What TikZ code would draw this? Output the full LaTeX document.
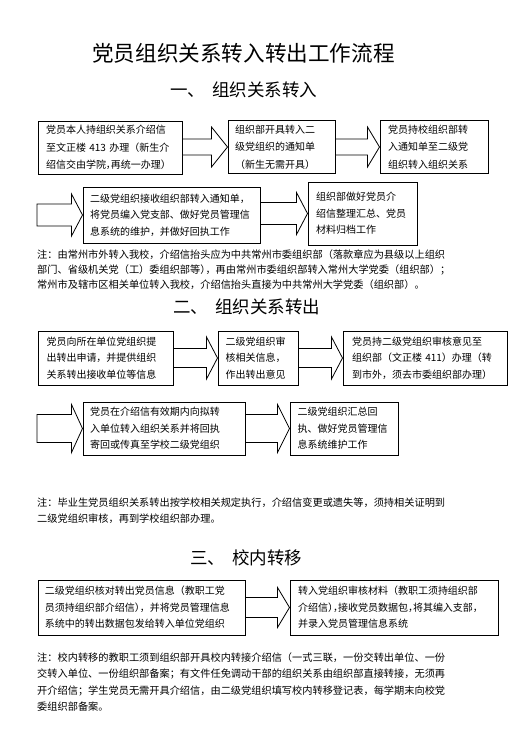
\documentclass[tikz,border=0pt]{standalone}
\usepackage{fontspec}
\setmainfont{Noto Sans CJK SC}
\usetikzlibrary{calc}
\XeTeXinterchartokenstate=1
\def\cjkglue{}
\XeTeXinterchartoks 1 1 = {\cjkglue}
\XeTeXinterchartoks 1 2 = {\cjkglue}
\XeTeXinterchartoks 1 3 = {\cjkglue}
\XeTeXinterchartoks 2 1 = {\cjkglue}
\XeTeXinterchartoks 3 1 = {\cjkglue}
\XeTeXinterchartoks 3 2 = {\cjkglue}
\XeTeXinterchartoks 3 3 = {\cjkglue}
\newcommand\jl[1]{\leavevmode\hbox to \linewidth{\def\cjkglue{\hskip 0pt plus 1fil minus 0.5pt}#1}}
\newcommand\hw[1]{#1\kern-0.5em}
\newcommand\barrow[5]{%
  \draw[blockarrow] let \p1=(#1), \p2=(#2) in
   (\x1,{\y2+#3pt}) -- ({\x2-#5pt},{\y2+#3pt}) -- ({\x2-#5pt},{\y2+#4pt}) -- (\x2,\y2)
   -- ({\x2-#5pt},{\y2-#4pt}) -- ({\x2-#5pt},{\y2-#3pt}) -- (\x1,{\y2-#3pt}) -- cycle;}
\tikzset{
  box/.style={draw=black, line width=1pt, fill=white, inner sep=0pt, align=left,
    font=\fontsize{10}{16.5}\selectfont},
  boxa/.style={box, font=\fontsize{10}{17.5}\selectfont},
  blockarrow/.style={draw=black, line width=0.8pt, fill=white, line join=miter},
  note/.style={inner sep=0pt, anchor=base west, align=left, text width=416pt},
  heading/.style={inner sep=0pt, anchor=base west, font=\fontsize{17.5}{20}\selectfont}
}
\begin{document}
\begin{tikzpicture}[x=1pt,y=-1pt]
\useasboundingbox[fill=white] (0,0) rectangle (528,740);

\node[inner sep=0pt, anchor=base, font=\fontsize{21.6}{24}\selectfont] (title) at (243.5,61) {党员组织关系转入转出工作流程};

\node[heading] (h1) at (170,96.6) {一、\hspace{7pt}组织关系转入};

% row 1
\node[boxa, minimum width=144pt, minimum height=53pt, text width=128pt] (A) at (110,147.5)
 {\jl{党员本人持组织关系介绍信}\\\jl{至文正楼 413 办理（新生介}\\\jl{绍信交由学院\hw{，}再统一办理）}};
\node[boxa, minimum width=107pt, minimum height=53pt, text width=93pt] (B) at (281.5,147)
 {\jl{组织部开具转入二}\\\jl{级党组织的通知单}\\（新生无需开具）};
\node[boxa, minimum width=108pt, minimum height=53pt, text width=92pt] (C) at (434,147)
 {\jl{党员持校组织部转}\\\jl{入通知单至二级党}\\组织转入组织关系};
% row 2
\node[box, minimum width=177pt, minimum height=56pt, text width=163pt] (D) at (171.5,215)
 {\jl{二级党组织接收组织部转入通知单，}\\\jl{将党员编入党支部、做好党员管理信}\\息系统的维护，并做好回执工作};
\node[box, minimum width=109pt, minimum height=63pt, text width=93pt] (E) at (362.5,213.5)
 {\jl{组织部做好党员介}\\\jl{绍信整理汇总、党员}\\材料归档工作};
\coordinate (s2) at (37,215);

\barrow{A.east}{B.west}{8}{20}{16}
\barrow{B.east}{C.west}{8}{20}{12}
\barrow{s2}{D.west}{11}{21}{11}
\barrow{D.east}{E.west}{11}{21}{11}

\node[note, font=\fontsize{10.2}{15.2}\selectfont] (n1) at (37,258)
 {\jl{注：由常州市外转入我校，介绍信抬头应为中共常州市委组织部（落款章应为县级以上组织}\\\jl{部门、省级机关党（工）委组织部等\hw{）}，再由常州市委组织部转入常州大学党委（组织部）；}\\常州市及辖市区相关单位转入我校，介绍信抬头直接为中共常州大学党委（组织部）。};

\node[heading] (h2) at (173,313.6) {二、\hspace{7pt}组织关系转出};

% row 3
\node[box, minimum width=135pt, minimum height=54pt, text width=118pt] (F) at (105.5,358)
 {\jl{党员向所在单位党组织提}\\\jl{出转出申请，并提供组织}\\\jl{关系转出接收单位等信息}};
\node[box, minimum width=80pt, minimum height=54pt, text width=65pt] (G) at (258,358)
 {\jl{二级党组织审}\\\jl{核相关信息，}\\\jl{作出转出意见}};
\node[box, minimum width=164pt, minimum height=54pt, text width=146pt] (H) at (425,358)
 {\jl{党员持二级党组织审核意见至}\\\jl{组织部（文正楼 411）办理（转}\\到市外，须去市委组织部办理）};
% row 4
\node[box, minimum width=162pt, minimum height=53pt, text width=148pt] (I) at (164,428.5)
 {\jl{党员在介绍信有效期内向拟转}\\\jl{入单位转入组织关系并将回执}\\寄回或传真至学校二级党组织};
\node[box, minimum width=108pt, minimum height=53pt, text width=93pt] (J) at (344,428.5)
 {\jl{二级党组织汇总回}\\\jl{执、做好党员管理信}\\息系统维护工作};
\coordinate (s4) at (37,430);

\barrow{F.east}{G.west}{9.5}{21}{11}
\barrow{G.east}{H.west}{9.5}{21}{11}
\barrow{s4}{I.west}{14}{24}{11}
\barrow{I.east}{J.west}{14}{24}{12}

\node[note, font=\fontsize{10.2}{16}\selectfont] (n2) at (37,506.3)
 {\jl{注：毕业生党员组织关系转出按学校相关规定执行，介绍信变更或遗失等，须持相关证明到}\\二级党组织审核，再到学校组织部办理。};

\node[heading] (h3) at (190,564.6) {三、\hspace{7pt}校内转移};

% row 5
\node[box, minimum width=207pt, minimum height=55pt, text width=193pt] (K) at (141.5,607.5)
 {\jl{二级党组织核对转出党员信息（教职工党}\\\jl{员须持组织部介绍信\hw{）}，并将党员管理信息}\\\jl{系统中的转出数据包发给转入单位党组织}};
\node[box, minimum width=208pt, minimum height=55pt, text width=192pt] (L) at (394,607.5)
 {\jl{转入党组织审核材料（教职工须持组织部}\\\jl{介绍信\hw{）}\hw{，}接收党员数据包\hw{，}将其编入支部，}\\并录入党员管理信息系统};

\barrow{K.east}{L.west}{10}{20}{12}

\node[note, font=\fontsize{10.2}{16.5}\selectfont] (n3) at (37,661)
 {\jl{注：校内转移的教职工须到组织部开具校内转接介绍信（一式三联，一份交转出单位、一份}\\\jl{交转入单位、一份组织部备案；有文件任免调动干部的组织关系由组织部直接转接，无须再}\\\jl{开介绍信；学生党员无需开具介绍信，由二级党组织填写校内转移登记表，每学期末向校党}\\委组织部备案。};
\end{tikzpicture}
\end{document}
